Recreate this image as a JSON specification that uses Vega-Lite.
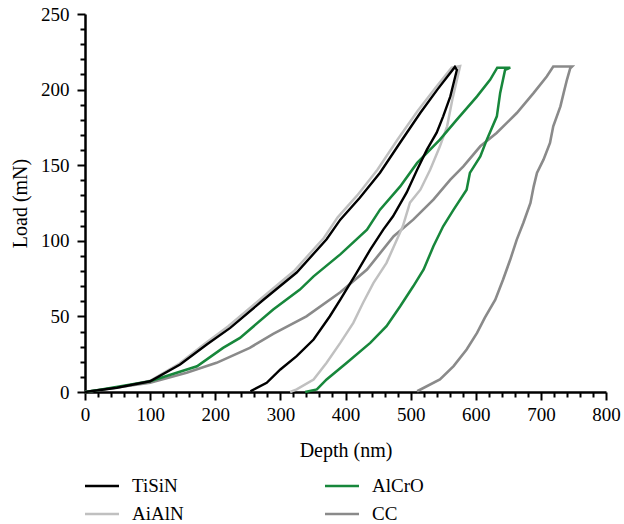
{
"$schema":"https://vega.github.io/schema/vega-lite/v6.json",
"width":521,"height":378,
"autosize":{"type":"none"},
"padding":{"left":85,"top":14,"right":18,"bottom":132},
"config":{"view":{"stroke":null},"font":"Liberation Serif, Tinos, Times New Roman, DejaVu Serif, serif",
"axis":{"labelFont":"Liberation Serif, Tinos, Times New Roman, DejaVu Serif, serif","titleFont":"Liberation Serif, Tinos, Times New Roman, DejaVu Serif, serif"},
"legend":{"labelFont":"Liberation Serif, Tinos, Times New Roman, DejaVu Serif, serif"}},
"data":{"values":[
{"s":"CC","i":1,"d":0,"l":0},{"s":"CC","i":2,"d":100,"l":6.1},{"s":"CC","i":3,"d":156,"l":12.7},{"s":"CC","i":4,"d":202,"l":19.3},{"s":"CC","i":5,"d":253,"l":29.2},{"s":"CC","i":6,"d":289,"l":38.5},{"s":"CC","i":7,"d":340,"l":50},{"s":"CC","i":8,"d":392,"l":66},{"s":"CC","i":9,"d":433,"l":81},{"s":"CC","i":10,"d":474,"l":103},{"s":"CC","i":11,"d":504,"l":114},{"s":"CC","i":12,"d":535,"l":127.2},{"s":"CC","i":13,"d":561,"l":140.5},{"s":"CC","i":14,"d":581,"l":149.2},{"s":"CC","i":15,"d":607,"l":162.5},{"s":"CC","i":16,"d":632,"l":171.3},{"s":"CC","i":17,"d":663,"l":184.5},{"s":"CC","i":18,"d":689,"l":197.8},{"s":"CC","i":19,"d":709,"l":208.7},{"s":"CC","i":20,"d":719,"l":215.3},{"s":"CC","i":21,"d":748,"l":215.3},
{"s":"CC","i":22,"d":745,"l":214},{"s":"CC","i":23,"d":740,"l":206.5},{"s":"CC","i":24,"d":735,"l":197.8},{"s":"CC","i":25,"d":730,"l":188.9},{"s":"CC","i":26,"d":719,"l":175.7},{"s":"CC","i":27,"d":714,"l":164.7},{"s":"CC","i":28,"d":704,"l":153.7},{"s":"CC","i":29,"d":694,"l":144.9},{"s":"CC","i":30,"d":689,"l":136},{"s":"CC","i":31,"d":684,"l":125},{"s":"CC","i":32,"d":673,"l":111.8},{"s":"CC","i":33,"d":663,"l":100.8},{"s":"CC","i":34,"d":653,"l":87.6},{"s":"CC","i":35,"d":642,"l":74.4},{"s":"CC","i":36,"d":630,"l":61.1},{"s":"CC","i":37,"d":614,"l":49.2},{"s":"CC","i":38,"d":602,"l":39.1},{"s":"CC","i":39,"d":586,"l":28.1},{"s":"CC","i":40,"d":566,"l":17.1},{"s":"CC","i":41,"d":545,"l":8.3},{"s":"CC","i":42,"d":510,"l":0.5},
{"s":"AiAlN","i":1,"d":0,"l":0},{"s":"AiAlN","i":2,"d":50,"l":3},{"s":"AiAlN","i":3,"d":100,"l":7.4},{"s":"AiAlN","i":4,"d":145,"l":18.8},{"s":"AiAlN","i":5,"d":185,"l":32.2},{"s":"AiAlN","i":6,"d":220,"l":43.5},{"s":"AiAlN","i":7,"d":271,"l":62},{"s":"AiAlN","i":8,"d":321,"l":80},{"s":"AiAlN","i":9,"d":367,"l":102},{"s":"AiAlN","i":10,"d":388,"l":115.5},{"s":"AiAlN","i":11,"d":418,"l":130},{"s":"AiAlN","i":12,"d":449,"l":147},{"s":"AiAlN","i":13,"d":480,"l":167},{"s":"AiAlN","i":14,"d":511,"l":186},{"s":"AiAlN","i":15,"d":538,"l":201},{"s":"AiAlN","i":16,"d":563,"l":214.5},
{"s":"AiAlN","i":17,"d":576,"l":215.5},{"s":"AiAlN","i":18,"d":564,"l":193.3},{"s":"AiAlN","i":19,"d":556,"l":175.7},{"s":"AiAlN","i":20,"d":545,"l":162.5},{"s":"AiAlN","i":21,"d":530,"l":147},{"s":"AiAlN","i":22,"d":515,"l":133.8},{"s":"AiAlN","i":23,"d":499,"l":125.2},{"s":"AiAlN","i":24,"d":488,"l":109.6},{"s":"AiAlN","i":25,"d":463,"l":85.4},{"s":"AiAlN","i":26,"d":443,"l":72.2},{"s":"AiAlN","i":27,"d":427,"l":59},{"s":"AiAlN","i":28,"d":412,"l":45.7},{"s":"AiAlN","i":29,"d":392,"l":32.5},{"s":"AiAlN","i":30,"d":371,"l":19.3},{"s":"AiAlN","i":31,"d":351,"l":8.3},{"s":"AiAlN","i":32,"d":325,"l":1.7},{"s":"AiAlN","i":33,"d":315,"l":0},
{"s":"AlCrO","i":1,"d":0,"l":0},{"s":"AlCrO","i":2,"d":23,"l":1.5},{"s":"AlCrO","i":3,"d":100,"l":7.1},{"s":"AlCrO","i":4,"d":172,"l":17},{"s":"AlCrO","i":5,"d":212,"l":29.2},{"s":"AlCrO","i":6,"d":238,"l":35.8},{"s":"AlCrO","i":7,"d":289,"l":54.5},{"s":"AlCrO","i":8,"d":330,"l":67.7},{"s":"AlCrO","i":9,"d":351,"l":76.5},{"s":"AlCrO","i":10,"d":392,"l":91},{"s":"AlCrO","i":11,"d":433,"l":107.4},{"s":"AlCrO","i":12,"d":453,"l":120.6},{"s":"AlCrO","i":13,"d":484,"l":136},{"s":"AlCrO","i":14,"d":510,"l":151.5},{"s":"AlCrO","i":15,"d":545,"l":166.9},{"s":"AlCrO","i":16,"d":571,"l":180.1},{"s":"AlCrO","i":17,"d":602,"l":195.5},{"s":"AlCrO","i":18,"d":622,"l":206.5},{"s":"AlCrO","i":19,"d":633,"l":214.5},{"s":"AlCrO","i":20,"d":653,"l":214.5},
{"s":"AlCrO","i":21,"d":645,"l":213},{"s":"AlCrO","i":22,"d":637.5,"l":197.8},{"s":"AlCrO","i":23,"d":632.4,"l":182.3},{"s":"AlCrO","i":24,"d":617,"l":166.9},{"s":"AlCrO","i":25,"d":607,"l":155.8},{"s":"AlCrO","i":26,"d":591,"l":144.9},{"s":"AlCrO","i":27,"d":586,"l":133.8},{"s":"AlCrO","i":28,"d":566,"l":120.6},{"s":"AlCrO","i":29,"d":550,"l":109.6},{"s":"AlCrO","i":30,"d":535,"l":96.4},{"s":"AlCrO","i":31,"d":520,"l":81},{"s":"AlCrO","i":32,"d":504,"l":69.9},{"s":"AlCrO","i":33,"d":484,"l":56.7},{"s":"AlCrO","i":34,"d":463,"l":43.5},{"s":"AlCrO","i":35,"d":438,"l":32.5},{"s":"AlCrO","i":36,"d":402,"l":19.3},{"s":"AlCrO","i":37,"d":371,"l":8.3},{"s":"AlCrO","i":38,"d":356,"l":1.7},{"s":"AlCrO","i":39,"d":338,"l":0},
{"s":"TiSiN","i":1,"d":0,"l":0},{"s":"TiSiN","i":2,"d":49,"l":2.8},{"s":"TiSiN","i":3,"d":100,"l":7.1},{"s":"TiSiN","i":4,"d":146,"l":18.2},{"s":"TiSiN","i":5,"d":187,"l":31.4},{"s":"TiSiN","i":6,"d":223,"l":42.4},{"s":"TiSiN","i":7,"d":274,"l":61},{"s":"TiSiN","i":8,"d":325,"l":79},{"s":"TiSiN","i":9,"d":371,"l":101},{"s":"TiSiN","i":10,"d":392,"l":114},{"s":"TiSiN","i":11,"d":422,"l":128.5},{"s":"TiSiN","i":12,"d":453,"l":145},{"s":"TiSiN","i":13,"d":484,"l":165},{"s":"TiSiN","i":14,"d":515,"l":184.7},{"s":"TiSiN","i":15,"d":541,"l":200},{"s":"TiSiN","i":16,"d":568,"l":215},
{"s":"TiSiN","i":17,"d":571,"l":213},{"s":"TiSiN","i":18,"d":561,"l":195.5},{"s":"TiSiN","i":19,"d":550,"l":182.3},{"s":"TiSiN","i":20,"d":540,"l":171.5},{"s":"TiSiN","i":21,"d":525,"l":160.3},{"s":"TiSiN","i":22,"d":510,"l":147},{"s":"TiSiN","i":23,"d":494,"l":132},{"s":"TiSiN","i":24,"d":473,"l":116.2},{"s":"TiSiN","i":25,"d":458,"l":107.4},{"s":"TiSiN","i":26,"d":438,"l":94.2},{"s":"TiSiN","i":27,"d":417,"l":78.8},{"s":"TiSiN","i":28,"d":392,"l":61.1},{"s":"TiSiN","i":29,"d":376,"l":50.1},{"s":"TiSiN","i":30,"d":351,"l":34.7},{"s":"TiSiN","i":31,"d":325,"l":23.7},{"s":"TiSiN","i":32,"d":300,"l":14.9},{"s":"TiSiN","i":33,"d":279,"l":6.1},{"s":"TiSiN","i":34,"d":254,"l":0.5}
]},
"mark":{"type":"line","interpolate":"linear"},
"encoding":{
"x":{"field":"d","type":"quantitative","scale":{"domain":[0,800],"nice":false},
"axis":{"title":"Depth (nm)","values":[0,20,40,60,80,100,120,140,160,180,200,220,240,260,280,300,320,340,360,380,400,420,440,460,480,500,520,540,560,580,600,620,640,660,680,700,720,740,760,780,800],
"labelExpr":"datum.value % 100 === 0 ? datum.label : ''",
"tickSize":{"condition":{"test":"datum.value % 100 === 0","value":8},"value":5},
"grid":false,"domainColor":"black","domainWidth":2.5,"tickColor":"black","tickWidth":2,
"labelFontSize":19,"labelColor":"black","labelPadding":5,"labelOverlap":false,"labelFlush":false,
"titleFontSize":20,"titleFontWeight":"normal","titleColor":"black","titlePadding":16}},
"y":{"field":"l","type":"quantitative","scale":{"domain":[0,250],"nice":false},
"axis":{"title":"Load (mN)","values":[0,10,20,30,40,50,60,70,80,90,100,110,120,130,140,150,160,170,180,190,200,210,220,230,240,250],
"labelExpr":"datum.value % 50 === 0 ? datum.label : ''",
"tickSize":{"condition":{"test":"datum.value % 50 === 0","value":8},"value":5},
"grid":false,"domainColor":"black","domainWidth":2.5,"tickColor":"black","tickWidth":2,
"labelFontSize":19,"labelColor":"black","labelPadding":8,"labelOverlap":false,"labelFlush":false,
"titleFontSize":20,"titleFontWeight":"normal","titleColor":"black","titlePadding":10}},
"order":{"field":"i","type":"quantitative"},
"color":{"field":"s","type":"nominal","scale":{"domain":["TiSiN","AiAlN","AlCrO","CC"],"range":["#000000","#c0c0c0","#17873b","#8a8a8a"]},
"legend":{"title":null,"orient":"none","legendX":7,"legendY":462,"columns":2,"columnPadding":135,"rowPadding":8,"symbolType":"M-2,0H2","symbolSize":289,"symbolStrokeWidth":2.5,"symbolFillColor":"transparent","labelFontSize":19,"labelOffset":20,"labelColor":"black"}},
"strokeWidth":{"field":"s","type":"nominal","scale":{"domain":["TiSiN","AiAlN","AlCrO","CC"],"range":[2.4,2.6,2.4,1.8]},"legend":null}
}
}
